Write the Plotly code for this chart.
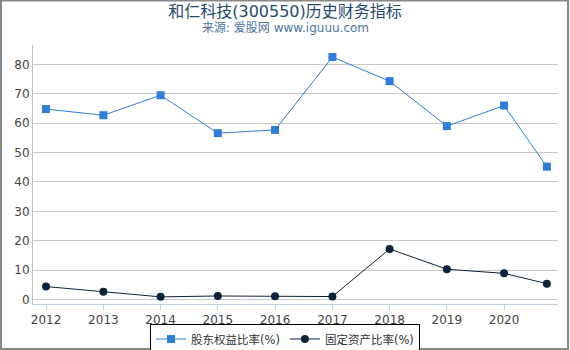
import plotly.graph_objects as go

dates = ["2012-01-01", "2013-01-01", "2014-01-01", "2015-01-01", "2016-01-01",
         "2017-01-01", "2018-01-01", "2019-01-01", "2020-01-01", "2020-09-30"]
equity_ratio = [64.8, 62.7, 69.5, 56.6, 57.7, 82.5, 74.3, 59.0, 66.0, 45.2]
fixed_ratio = [4.4, 2.6, 0.9, 1.2, 1.1, 1.0, 17.2, 10.3, 8.9, 5.4]
name1 = "股东权益比率(%)"
name2 = "固定资产比率(%)"
title = "和仁科技(300550)历史财务指标"
subtitle = "来源: 爱股网 www.iguuu.com"

W, H = 570, 350
L, R, T, B = 33, 12, 45, 46
pw, ph = W - L - R, H - T - B
FONT = "DejaVu Sans, Noto Sans CJK SC, sans-serif"

def px_x(x):
    return (x - L) / pw

def px_y(y):
    return (H - B - y) / ph

fig = go.Figure()
fig.add_trace(go.Scatter(
    x=dates, y=equity_ratio, name=name1, mode="lines+markers",
    line=dict(color="#2f7ed8", width=1),
    marker=dict(symbol="square", size=8, color="#2f7ed8", line=dict(width=0)),
))
fig.add_trace(go.Scatter(
    x=dates, y=fixed_ratio, name=name2, mode="lines+markers",
    line=dict(color="#0d233a", width=1),
    marker=dict(symbol="circle", size=8, color="#0d233a", line=dict(width=0)),
))

fig.update_layout(
    width=W, height=H,
    margin=dict(l=L, r=R, t=T, b=B, autoexpand=False),
    paper_bgcolor="white", plot_bgcolor="white",
    font=dict(family=FONT, size=12, color="#444"),
    title=dict(text=title, x=0.5, xref="container", xanchor="center",
               y=1 - 11 / H, yref="container", yanchor="middle",
               font=dict(size=16, color="#274b6d", family=FONT)),
    showlegend=True,
    legend=dict(orientation="h", x=px_x(285), xanchor="center",
                y=px_y(323.5), yanchor="top",
                bordercolor="#000", borderwidth=1, bgcolor="white",
                font=dict(size=11.5, color="#333", family=FONT),
                itemwidth=30, tracegroupgap=0),
    xaxis=dict(type="date", range=["2011-10-10", "2020-12-10"],
               tickformat="%Y", dtick="M12", tick0="2012-01-01",
               showgrid=False, showline=True, linecolor="#C0D0E0", linewidth=1,
               ticks="outside", ticklen=5, tickcolor="#C0D0E0",
               tickfont=dict(size=12, color="#444"), zeroline=False),
    yaxis=dict(range=[-1.53, 86.6], dtick=10, tick0=0,
               showgrid=True, gridcolor="#C8C8C8", gridwidth=1,
               showline=True, linecolor="#C0C0C0", linewidth=1,
               ticks="", tickfont=dict(size=12, color="#444"),
               zeroline=False),
    annotations=[dict(text=subtitle, xref="paper", yref="paper",
                      x=px_x(285), y=px_y(28), xanchor="center", yanchor="middle",
                      showarrow=False, font=dict(size=12, color="#4d759e", family=FONT))],
    shapes=[dict(type="rect", xref="paper", yref="paper",
                 x0=px_x(1), x1=px_x(568), y0=px_y(349), y1=px_y(0.5),
                 line=dict(color="#888", width=2), layer="below")],
)

fig.write_html("out.html")
